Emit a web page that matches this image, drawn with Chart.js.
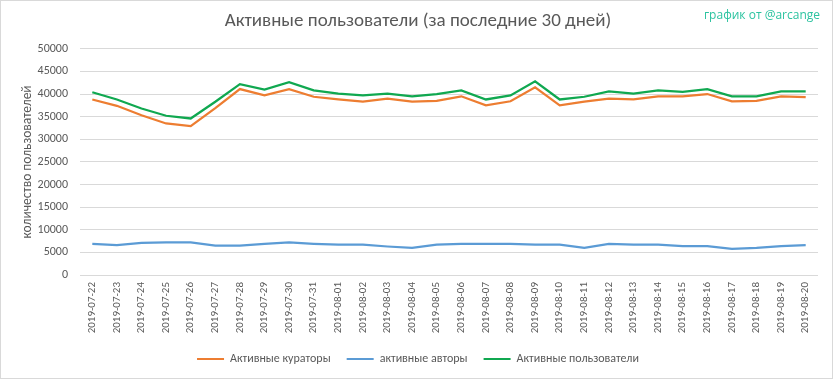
<!DOCTYPE html>
<html>
<head>
<meta charset="utf-8">
<script src="https://cdn.jsdelivr.net/npm/chart.js@4.4.1/dist/chart.umd.min.js"></script>
<style>
  html, body { margin: 0; padding: 0; background: #fff; }
  #wrap { position: relative; width: 833px; height: 379px; }
  canvas { display: block; }
</style>
</head>
<body>
<div id="wrap"><canvas id="c" width="833" height="379"></canvas></div>
<script>
const dates = ['2019-07-22','2019-07-23','2019-07-24','2019-07-25','2019-07-26','2019-07-27','2019-07-28','2019-07-29','2019-07-30','2019-07-31',
  '2019-08-01','2019-08-02','2019-08-03','2019-08-04','2019-08-05','2019-08-06','2019-08-07','2019-08-08','2019-08-09','2019-08-10',
  '2019-08-11','2019-08-12','2019-08-13','2019-08-14','2019-08-15','2019-08-16','2019-08-17','2019-08-18','2019-08-19','2019-08-20'];
const curators = [38800,37400,35300,33500,32900,36900,41100,39700,41100,39400,38800,38300,39000,38300,38500,39500,37500,38400,41500,37500,38300,39000,38800,39500,39500,40000,38400,38500,39500,39300];
const authors  = [6900,6600,7100,7200,7200,6500,6500,6900,7200,6900,6700,6700,6300,6000,6700,6900,6900,6900,6700,6700,6000,6900,6700,6700,6400,6400,5800,6000,6400,6600];
const users    = [40400,38800,36800,35200,34600,38300,42200,41000,42600,40800,40100,39700,40100,39500,40000,40800,38800,39700,42800,38800,39400,40600,40100,40800,40500,41100,39500,39500,40600,40600];
const seriesNames = ['Активные кураторы','активные авторы','Активные пользователи'];
const yMin = 0, yMax = 50000, yStep = 5000;
const chartTitle = 'Активные пользователи (за последние 30 дней)';
const yTitle = 'количество пользователей';
const watermark = 'график от @arcange';

const FONT = "Carlito, Lato, 'Liberation Sans', sans-serif";
const GRAY = '#595959';

const framePlugin = {
  id: 'frame',
  beforeDraw(chart) {
    const ctx = chart.ctx;
    ctx.save();
    ctx.fillStyle = '#fff';
    ctx.fillRect(0, 0, chart.width, chart.height);
    ctx.strokeStyle = '#d9d9d9';
    ctx.lineWidth = 1;
    ctx.strokeRect(0.5, 0.5, chart.width - 1, chart.height - 1);
    ctx.restore();
  },
  afterDraw(chart) {
    const ctx = chart.ctx;
    ctx.save();
    ctx.font = "12px 'Open Sans', sans-serif";
    ctx.fillStyle = '#2cc3a0';
    ctx.textAlign = 'right';
    ctx.textBaseline = 'middle';
    ctx.fillText(watermark, 820, 16);
    ctx.restore();
  }
};

new Chart(document.getElementById('c'), {
  type: 'line',
  data: {
    labels: dates,
    datasets: [
      { label: seriesNames[0], data: curators, borderColor: '#ED7D31', backgroundColor: '#ED7D31', borderWidth: 2.25, pointRadius: 0, tension: 0 },
      { label: seriesNames[1], data: authors,  borderColor: '#5B9BD5', backgroundColor: '#5B9BD5', borderWidth: 2.25, pointRadius: 0, tension: 0 },
      { label: seriesNames[2], data: users,    borderColor: '#10A850', backgroundColor: '#10A850', borderWidth: 2.25, pointRadius: 0, tension: 0 }
    ]
  },
  options: {
    responsive: false,
    animation: false,
    layout: { padding: { left: 18, right: 15, top: 0, bottom: 4 } },
    plugins: {
      title: {
        display: true, text: chartTitle, color: GRAY,
        font: { family: FONT, size: 19, weight: 300 },
        padding: { top: 10, bottom: 16 }
      },
      legend: {
        position: 'bottom',
        labels: {
          color: GRAY, font: { family: FONT, size: 12 },
          boxWidth: 27, boxHeight: 2, padding: 16,
          generateLabels(chart) {
            return Chart.defaults.plugins.legend.labels.generateLabels(chart).map(l => Object.assign(l, { lineWidth: 0 }));
          }
        }
      },
      tooltip: { enabled: false }
    },
    scales: {
      x: {
        offset: true,
        afterFit(scale) { scale.height = 62; },
        grid: { display: false, drawTicks: false, tickLength: 0 },
        border: { display: false },
        ticks: { color: GRAY, font: { family: FONT, size: 11 }, maxRotation: 90, minRotation: 90, autoSkip: false, padding: 7 }
      },
      y: {
        min: yMin, max: yMax,
        afterFit(scale) { scale.width = 62; },
        grid: { color: '#d9d9d9', drawTicks: false },
        border: { display: false },
        title: { display: true, text: yTitle, color: GRAY, font: { family: FONT, size: 13.5 }, padding: { top: 2, bottom: 0 } },
        ticks: { stepSize: yStep, color: GRAY, font: { family: FONT, size: 12 }, padding: 12, callback: v => String(v) }
      }
    }
  },
  plugins: [framePlugin]
});
</script>
</body>
</html>
